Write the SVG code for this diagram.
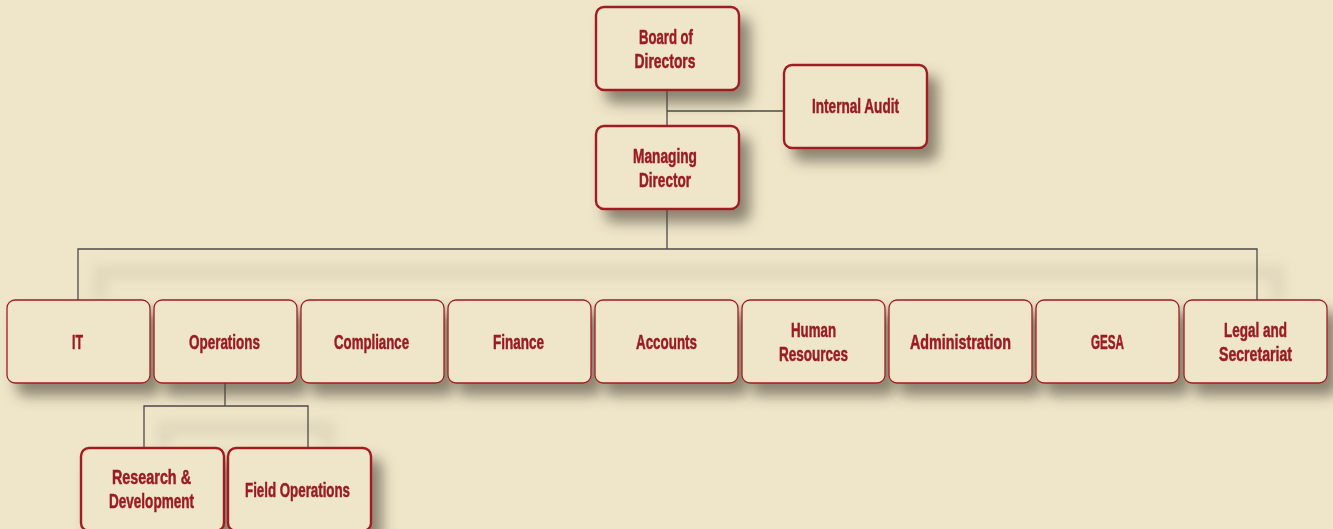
<svg xmlns="http://www.w3.org/2000/svg" width="1333" height="529" viewBox="0 0 1333 529">
<defs>
<filter id="sh" x="-25%" y="-25%" width="160%" height="180%">
<feDropShadow dx="10" dy="12" stdDeviation="7" flood-color="#4a4030" flood-opacity="0.6"/>
</filter>
<filter id="blur" x="-10%" y="-20%" width="120%" height="160%">
<feGaussianBlur stdDeviation="6"/>
</filter>
</defs>
<style>
.bx{fill:#efe6ca;stroke:#a01d23;stroke-width:2.4}
.bt{fill:#efe6ca;stroke:#a01d23;stroke-width:1.3}
.t{font-family:"Liberation Sans",Arial,sans-serif;font-weight:bold;font-size:20.5px;fill:#9b1b22;stroke:#9b1b22;stroke-width:0.5;text-anchor:middle}
.ln{fill:none;stroke:#4d4b45;stroke-width:1.3}
.lsh{fill:none;stroke:#8a7f65;stroke-width:14;opacity:0.14}
</style>
<rect width="1333" height="529" fill="#efe6ca"/>
<g id="connector-shadows" filter="url(#blur)">
<path class="lsh" d="M100 300 V272 H1278 V300"/>
<path class="lsh" d="M164 447 V428 H328 V447"/>
</g>
<g id="connectors">
<path class="ln" d="M667 90 V125"/>
<path class="ln" d="M667 111 H784"/>
<path class="ln" d="M667 209 V249"/>
<path class="ln" d="M78 300 V249 H1257 V300"/>
<path class="ln" d="M225 383 V406"/>
<path class="ln" d="M144 447 V406 H308 V447"/>
</g>
<g id="board"><rect class="bx" x="596" y="7" width="143" height="83" rx="8" filter="url(#sh)"/>
<text class="t"><tspan x="666" y="44" textLength="54" lengthAdjust="spacingAndGlyphs">Board of</tspan><tspan x="665" y="68" textLength="61" lengthAdjust="spacingAndGlyphs">Directors</tspan></text></g>
<g id="audit"><rect class="bx" x="784" y="65" width="143" height="83" rx="8" filter="url(#sh)"/>
<text class="t" x="855.5" y="113" textLength="87" lengthAdjust="spacingAndGlyphs">Internal Audit</text></g>
<g id="md"><rect class="bx" x="596" y="126" width="143" height="83" rx="8" filter="url(#sh)"/>
<text class="t"><tspan x="665" y="163" textLength="64" lengthAdjust="spacingAndGlyphs">Managing</tspan><tspan x="665" y="187" textLength="52" lengthAdjust="spacingAndGlyphs">Director</tspan></text></g>
<g id="it"><rect class="bt" x="7" y="300" width="143" height="83" rx="8" filter="url(#sh)"/>
<text class="t" x="77.5" y="349" textLength="11" lengthAdjust="spacingAndGlyphs">IT</text></g>
<g id="operations"><rect class="bt" x="154" y="300" width="143" height="83" rx="8" filter="url(#sh)"/>
<text class="t" x="224.5" y="349" textLength="71" lengthAdjust="spacingAndGlyphs">Operations</text></g>
<g id="compliance"><rect class="bt" x="301" y="300" width="143" height="83" rx="8" filter="url(#sh)"/>
<text class="t" x="371.5" y="349" textLength="75" lengthAdjust="spacingAndGlyphs">Compliance</text></g>
<g id="finance"><rect class="bt" x="448" y="300" width="143" height="83" rx="8" filter="url(#sh)"/>
<text class="t" x="518.5" y="349" textLength="51" lengthAdjust="spacingAndGlyphs">Finance</text></g>
<g id="accounts"><rect class="bt" x="595" y="300" width="143" height="83" rx="8" filter="url(#sh)"/>
<text class="t" x="666.5" y="349" textLength="61" lengthAdjust="spacingAndGlyphs">Accounts</text></g>
<g id="hr"><rect class="bt" x="742" y="300" width="143" height="83" rx="8" filter="url(#sh)"/>
<text class="t"><tspan x="813.5" y="337" textLength="45" lengthAdjust="spacingAndGlyphs">Human</tspan><tspan x="813.5" y="361" textLength="69" lengthAdjust="spacingAndGlyphs">Resources</tspan></text></g>
<g id="administration"><rect class="bt" x="889" y="300" width="143" height="83" rx="8" filter="url(#sh)"/>
<text class="t" x="960.5" y="349" textLength="101" lengthAdjust="spacingAndGlyphs">Administration</text></g>
<g id="gesa"><rect class="bt" x="1036" y="300" width="143" height="83" rx="8" filter="url(#sh)"/>
<text class="t" x="1107.5" y="349" textLength="33" lengthAdjust="spacingAndGlyphs">GESA</text></g>
<g id="legal"><rect class="bt" x="1184" y="300" width="143" height="83" rx="8" filter="url(#sh)"/>
<text class="t"><tspan x="1255.5" y="337" textLength="63" lengthAdjust="spacingAndGlyphs">Legal and</tspan><tspan x="1255.5" y="361" textLength="73" lengthAdjust="spacingAndGlyphs">Secretariat</tspan></text></g>
<g id="rd"><rect class="bx" x="81" y="448" width="143" height="83" rx="8" filter="url(#sh)"/>
<text class="t"><tspan x="151.5" y="484" textLength="79" lengthAdjust="spacingAndGlyphs">Research  &amp;</tspan><tspan x="151.5" y="508" textLength="85" lengthAdjust="spacingAndGlyphs">Development</tspan></text></g>
<g id="field"><rect class="bx" x="228" y="448" width="143" height="83" rx="8" filter="url(#sh)"/>
<text class="t" x="297.5" y="497" textLength="105" lengthAdjust="spacingAndGlyphs">Field Operations</text></g>
</svg>
